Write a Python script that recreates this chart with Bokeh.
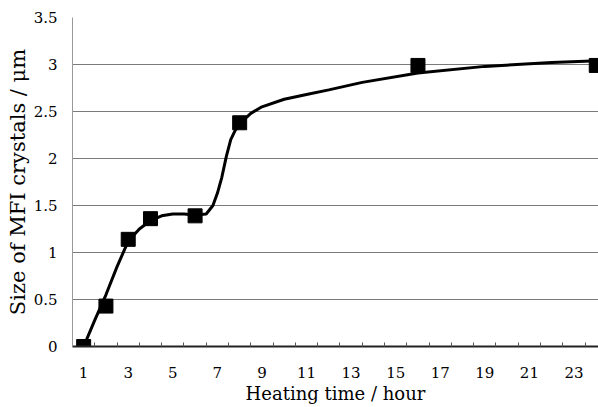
from bokeh.plotting import figure
from bokeh.models import Range1d, FixedTicker, CustomJSTickFormatter
from bokeh.embed import file_html
from bokeh.resources import INLINE

# measured data (markers)
hours = [1, 2, 3, 4, 6, 8, 16, 24]
size_um = [0.0, 0.43, 1.14, 1.36, 1.39, 2.38, 2.99, 2.99]

# smooth fitted curve
curve_hours = [1, 1.5, 2, 2.5, 3, 3.5, 4, 4.5, 5, 5.5, 6, 6.5, 6.8, 7.0, 7.2, 7.4,
               7.6, 7.8, 8.0, 8.5, 9, 10, 11, 12, 13.5, 16, 19, 22, 24.1]
curve_size = [0.0, 0.28, 0.55, 0.85, 1.12, 1.25, 1.34, 1.39, 1.41, 1.41, 1.40, 1.41,
              1.50, 1.63, 1.80, 2.02, 2.20, 2.30, 2.37, 2.48, 2.55, 2.63, 2.68, 2.73,
              2.81, 2.91, 2.98, 3.02, 3.04]

x_tick_labels = [1, 3, 5, 7, 9, 11, 13, 15, 17, 19, 21, 23]
x_minor = [i + 0.5 for i in range(0, 25)]
y_ticks = [0, 0.5, 1, 1.5, 2, 2.5, 3, 3.5]

FONT = "DejaVu Serif"

p = figure(width=598, height=407, output_backend="svg", toolbar_location=None,
           x_range=Range1d(0.5, 24.1), y_range=Range1d(0, 3.5),
           min_border_left=72, min_border_right=0, min_border_top=17, min_border_bottom=61)

p.outline_line_color = None
p.background_fill_color = "white"

p.line(curve_hours, curve_size, line_color="black", line_width=3)
p.scatter(hours, size_um, marker="square", size=14, fill_color="black", line_color="black")

# x axis
xa = p.xaxis[0]
xa.ticker = FixedTicker(ticks=x_tick_labels, minor_ticks=x_minor)
xa.axis_line_color = "#222222"
xa.axis_line_width = 2
xa.major_tick_in = 0
xa.major_tick_out = 0
xa.minor_tick_in = 4
xa.minor_tick_out = 0
xa.minor_tick_line_color = "#555555"
xa.major_label_standoff = 20
xa.major_label_text_font = FONT
xa.major_label_text_font_size = "15px"
xa.major_label_text_color = "black"
xa.axis_label = "Heating time / hour"
xa.axis_label_text_font = FONT
xa.axis_label_text_font_size = "18px"
xa.axis_label_text_font_style = "normal"
xa.axis_label_text_color = "black"
xa.axis_label_standoff = 2

# y axis
ya = p.yaxis[0]
ya.ticker = FixedTicker(ticks=y_ticks)
ya.formatter = CustomJSTickFormatter(code="return tick.toString();")
ya.axis_line_color = "#999999"
ya.axis_line_width = 1
ya.major_tick_in = 0
ya.major_tick_out = 0
ya.minor_tick_in = 0
ya.minor_tick_out = 0
ya.major_label_standoff = 15
ya.major_label_text_font = FONT
ya.major_label_text_font_size = "15px"
ya.major_label_text_color = "black"
ya.axis_label = "Size of MFI crystals / μm"
ya.axis_label_text_font = FONT
ya.axis_label_text_font_size = "21px"
ya.axis_label_text_font_style = "normal"
ya.axis_label_text_color = "black"
ya.axis_label_standoff = 1

p.xgrid.grid_line_color = None
p.ygrid.grid_line_color = "#7a7a7a"
p.ygrid.grid_line_width = 1

open("out.html", "w").write(file_html(p, INLINE))
